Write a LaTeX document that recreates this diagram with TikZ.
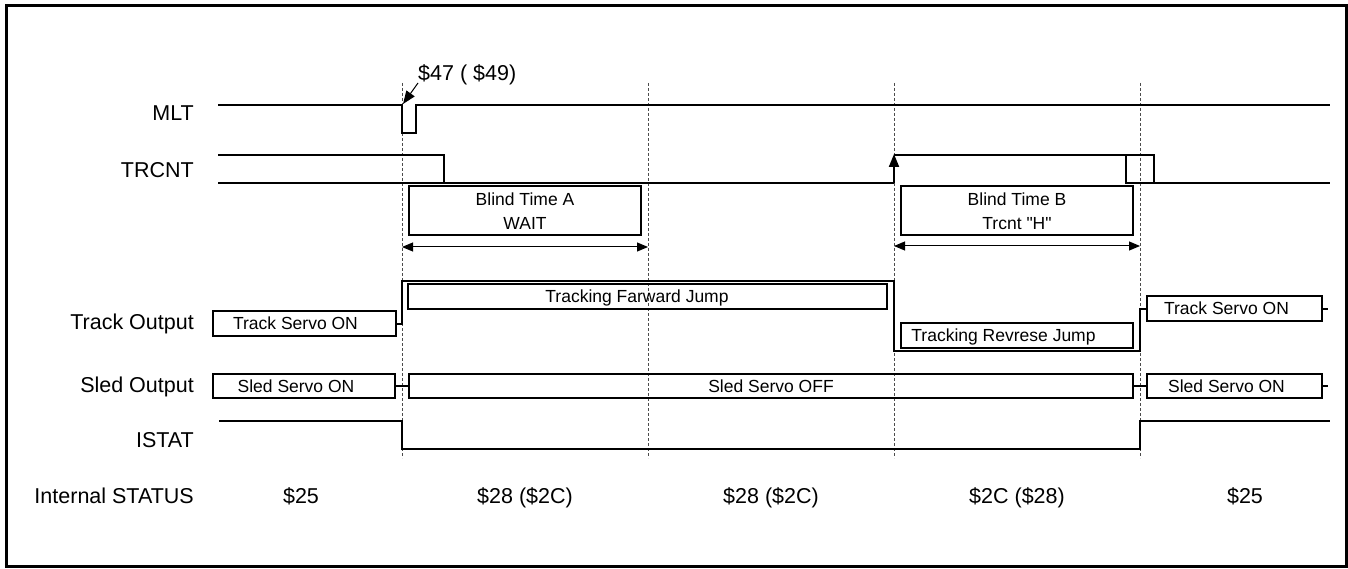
\documentclass[tikz,border=0pt]{standalone}
\usepackage{fontspec}
\setmainfont{Liberation Sans}
\newfontfamily\rawfont{Liberation Sans}
\usetikzlibrary{arrows.meta}
\begin{document}
\begin{tikzpicture}[x=1pt,y=-1pt,
  sig/.style={line width=2pt, line join=miter},
  sbox/.style={draw, line width=2pt, inner sep=0pt},
  gridline/.style={line width=1pt, black!70, dash pattern=on 3pt off 2pt},
  lbl/.style={anchor=east, font=\fontsize{21.5}{24}\selectfont, inner sep=0pt, text height=15.4pt, text depth=0pt},
  stat/.style={font=\fontsize{21.5}{24}\selectfont, inner sep=0pt, text height=15.4pt, text depth=0pt},
  txt/.style={font=\fontsize{17.5}{21}\selectfont, inner sep=0pt, text height=12.5pt, text depth=0pt},
  tip/.style={-{Triangle[length=13pt,width=10pt]}},
  dtip/.style={{Triangle[length=11pt,width=9pt]}-{Triangle[length=11pt,width=9pt]}},
]
\useasboundingbox (0,0) rectangle (1348,569);
\draw[line width=3pt] (6,6) rectangle (1346,566);

% time markers
\foreach \x/\n in {402/t1,648/t2,894/t3,1140/t4}{
  \coordinate (\n top) at (\x,83);
  \coordinate (\n bot) at (\x,458);
  \draw[gridline] (\n top) -- (\n bot);
}

% labels
\node[lbl] (lmlt) at (194,113) {MLT};
\node[lbl] (ltrcnt) at (194,170) {TRCNT};
\node[lbl] (ltrack) at (194,322) {Track Output};
\node[lbl] (lsled) at (194,385) {Sled Output};
\node[lbl] (listat) at (194,440) {ISTAT};
\node[lbl] (lstatus) at (194,496) {Internal STATUS};

% MLT
\draw[sig] (218,105) -- (402,105) -- (402,133) -- (416,133) -- (416,105) -- (1330,105);
\node[stat, anchor=west] (ann) at (418,73) {\$47 ( \$49)};
\coordinate (annfrom) at (418,83);
\coordinate (mltedge) at (403,104);
\draw[line width=1pt, tip] (annfrom) -- (mltedge);

% TRCNT
\draw[sig] (218,155) -- (444,155) -- (444,183);
\draw[sig] (218,183) -- (894,183);
\draw[line width=2pt, tip] (894,183) -- (894,154);
\draw[sig] (894,155) -- (1154,155) -- (1154,183);
\draw[sig] (1126,155) -- (1126,183) -- (1330,183);

% Blind time A
\node[sbox, minimum width=232pt, minimum height=49pt] (bta) at (525,210.5) {};
\node[txt] (bta1) at (525,199) {Blind Time A};
\node[txt] (bta2) at (525,223) {WAIT};
\draw[line width=1pt, dtip] (t1top |- 0,247) -- (t2top |- 0,247);

% Blind time B
\node[sbox, minimum width=232pt, minimum height=49pt] (btb) at (1017,210.5) {};
\node[txt] (btb1) at (1017,199) {Blind Time B};
\node[txt] (btb2) at (1017,223) {{\rawfont Trcnt "H"}};
\draw[line width=1pt, dtip] (t3top |- 0,246) -- (t4top |- 0,246);

% Track output
\node[sbox, minimum width=183pt, minimum height=25pt] (tr1) at (304.5,323.5) {};
\node[txt] at (295.5,323.5) {Track Servo ON};
\draw[sig] (tr1.east) -- (402,323.5) -- (402,281) -- (894,281) -- (894,351) -- (1140,351) -- (1140,308.5) -- (1147,308.5);
\node[sbox, minimum width=479pt, minimum height=25pt] (trf) at (647.5,296.5) {};
\node[txt] at (637,296.5) {Tracking Farward Jump};
\node[sbox, minimum width=232pt, minimum height=25pt] (trr) at (1017,335.5) {};
\node[txt] at (1003.5,335.5) {Tracking Revrese Jump};
\node[sbox, minimum width=175pt, minimum height=25pt] (tr2) at (1234.5,308.5) {};
\node[txt] at (1226.5,308.5) {Track Servo ON};
\coordinate (tr2end) at (1328,308.5);
\draw[sig] (tr2.east) -- (tr2end);

% Sled output
\node[sbox, minimum width=182pt, minimum height=24pt] (sl1) at (304,386) {};
\node[txt] at (296,386) {Sled Servo ON};
\node[sbox, minimum width=724pt, minimum height=24pt] (sl2) at (771,386) {};
\node[txt] at (771,386) {Sled Servo OFF};
\node[sbox, minimum width=175pt, minimum height=24pt] (sl3) at (1234.5,386) {};
\node[txt] at (1226.5,386) {Sled Servo ON};
\coordinate (sl3end) at (1328,386);
\draw[sig] (sl1.east) -- (sl2.west);
\draw[sig] (sl2.east) -- (sl3.west);
\draw[sig] (sl3.east) -- (sl3end);

% ISTAT
\draw[sig] (219,421) -- (402,421) -- (402,449) -- (1140,449) -- (1140,421) -- (1330,421);

% Internal status
\node[stat] (s1) at (301,496) {\$25};
\node[stat] (s2) at (525,496) {\$28 (\$2C)};
\node[stat] (s3) at (771,496) {\$28 (\$2C)};
\node[stat] (s4) at (1017,496) {\$2C (\$28)};
\node[stat] (s5) at (1245,496) {\$25};
\end{tikzpicture}
\end{document}
